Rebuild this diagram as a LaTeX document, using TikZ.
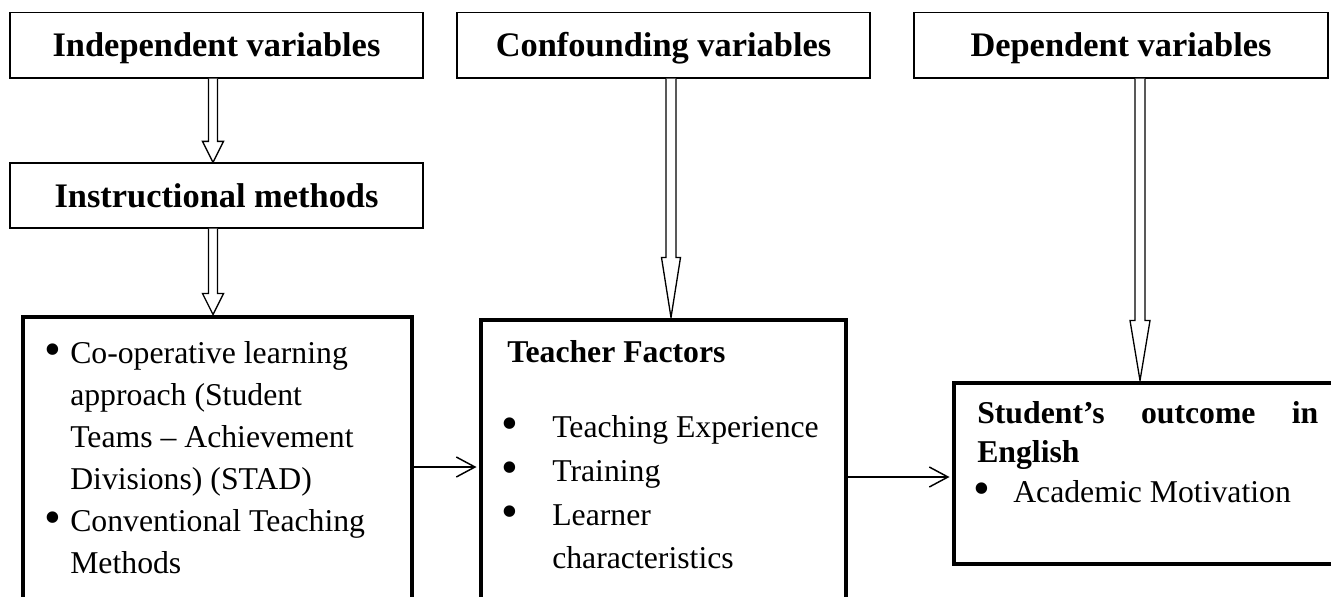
\documentclass[tikz,border=0pt]{standalone}
\usepackage{fontspec}
\setmainfont{Liberation Serif}
\usetikzlibrary{calc,fit,arrows.meta}
\newcommand{\hollowarrow}[6]{% #1 from node, #2 to node, #3 x coordinate, #4 head length, #5 shaft half width, #6 head half width
  \path[hollow] ($(#1.south -| #3)+(-#5,0)$) -- ($(#2.north -| #3)+(-#5,-#4)$)
    -- ($(#2.north -| #3)+(-#6,-#4)$) -- (#2.north -| #3)
    -- ($(#2.north -| #3)+(#6,-#4)$) -- ($(#2.north -| #3)+(#5,-#4)$)
    -- ($(#1.south -| #3)+(#5,0)$);}
\begin{document}
\begin{tikzpicture}[x=0.75pt,y=-0.75pt,
  thinbox/.style={draw, line width=0.9pt, inner sep=0pt},
  thickbox/.style={draw, line width=3pt, inner sep=0pt},
  head/.style={font=\fontsize{25.8}{30}\selectfont\bfseries, inner sep=0pt, anchor=base},
  body/.style={font=\fontsize{23.8}{28}\selectfont, inner sep=0pt, anchor=base west},
  bodyb/.style={font=\fontsize{23.8}{28}\selectfont\bfseries, inner sep=0pt, anchor=base west},
  bul/.style={font=\fontsize{36}{40}\selectfont, inner sep=0pt, anchor=base, yshift=-1.5pt},
  hollow/.style={draw, line width=1pt, fill=white, line join=miter},
  flow/.style={draw, line width=1.1pt, -{Straight Barb[length=14pt,width=15pt]}}
]
\useasboundingbox (0,0) rectangle (1331,596);
\clip (0,0) rectangle (1331,596);
\fill[white] (0,0) rectangle (1331,596);

% header boxes
\node[thinbox, fit={(10,12.5) (423,78)}] (iv) {};
\node[thinbox, fit={(457,12.5) (870,78)}] (cv) {};
\node[thinbox, fit={(914,12.5) (1328,78)}] (dv) {};
\node[thinbox, fit={(10,163) (423,228)}] (im) {};
\node[head] (ivt) at (216.5,56) {Independent variables};
\node[head] (cvt) at (663.5,56) {Confounding variables};
\node[head] (dvt) at (1121,56) {Dependent variables};
\node[head] (imt) at (216.5,207) {Instructional methods};

% main boxes
\node[thickbox, fit={(23,316.5) (412,650)}] (ba) {};
\node[thickbox, fit={(480.5,319.5) (845.5,650)}] (bb) {};
\node[thickbox, fit={(953.5,382.5) (1350,563.5)}] (bc) {};

% column coordinates for the hollow arrows
\coordinate (x1) at (213,0);
\coordinate (x2) at (671,0);
\coordinate (x3) at (1140,0);
\hollowarrow{iv}{im}{x1}{21}{4.5}{10.5}
\hollowarrow{im}{ba}{x1}{21}{4.5}{10.5}
\hollowarrow{cv}{bb}{x2}{60}{5}{9.5}
\hollowarrow{dv}{bc}{x3}{60}{5}{10}

% flow arrows
\coordinate (h1) at (0,467);
\coordinate (h2) at (0,477);
\draw[flow] (ba.east |- h1) -- ([xshift=-1.5pt]bb.west |- h1);
\draw[flow] (bb.east |- h2) -- ([xshift=-1.5pt]bc.west |- h2);

% box A text
\node[bul] (ab1) at (53,363) {•};
\node[body] (a1) at (70,363) {Co-operative learning};
\node[body] (a2) at (70,405) {approach (Student};
\node[body] (a3) at (70,447) {Teams – Achievement};
\node[body] (a4) at (70,489) {Divisions) (STAD)};
\node[bul] (ab2) at (53,531) {•};
\node[body] (a5) at (70,531) {Conventional Teaching};
\node[body] (a6) at (70,573) {Methods};

% box B text
\node[bodyb] (bt) at (507,362) {Teacher Factors};
\node[bul] (bb1) at (510,437) {•};
\node[body] (b1) at (552,437) {Teaching Experience};
\node[bul] (bb2) at (510,481) {•};
\node[body] (b2) at (552,481) {Training};
\node[bul] (bb3) at (510,525) {•};
\node[body] (b3) at (552,525) {Learner};
\node[body] (b4) at (552,568) {characteristics};

% box C text
\node[bodyb] (ct1) at (977,423) {\makebox[255.75pt][s]{Student’s outcome in}};
\node[bodyb] (ct2) at (977,462) {English};
\node[bul] (cb1) at (982,502) {•};
\node[body] (c1) at (1013,502) {Academic Motivation};
\end{tikzpicture}
\end{document}
